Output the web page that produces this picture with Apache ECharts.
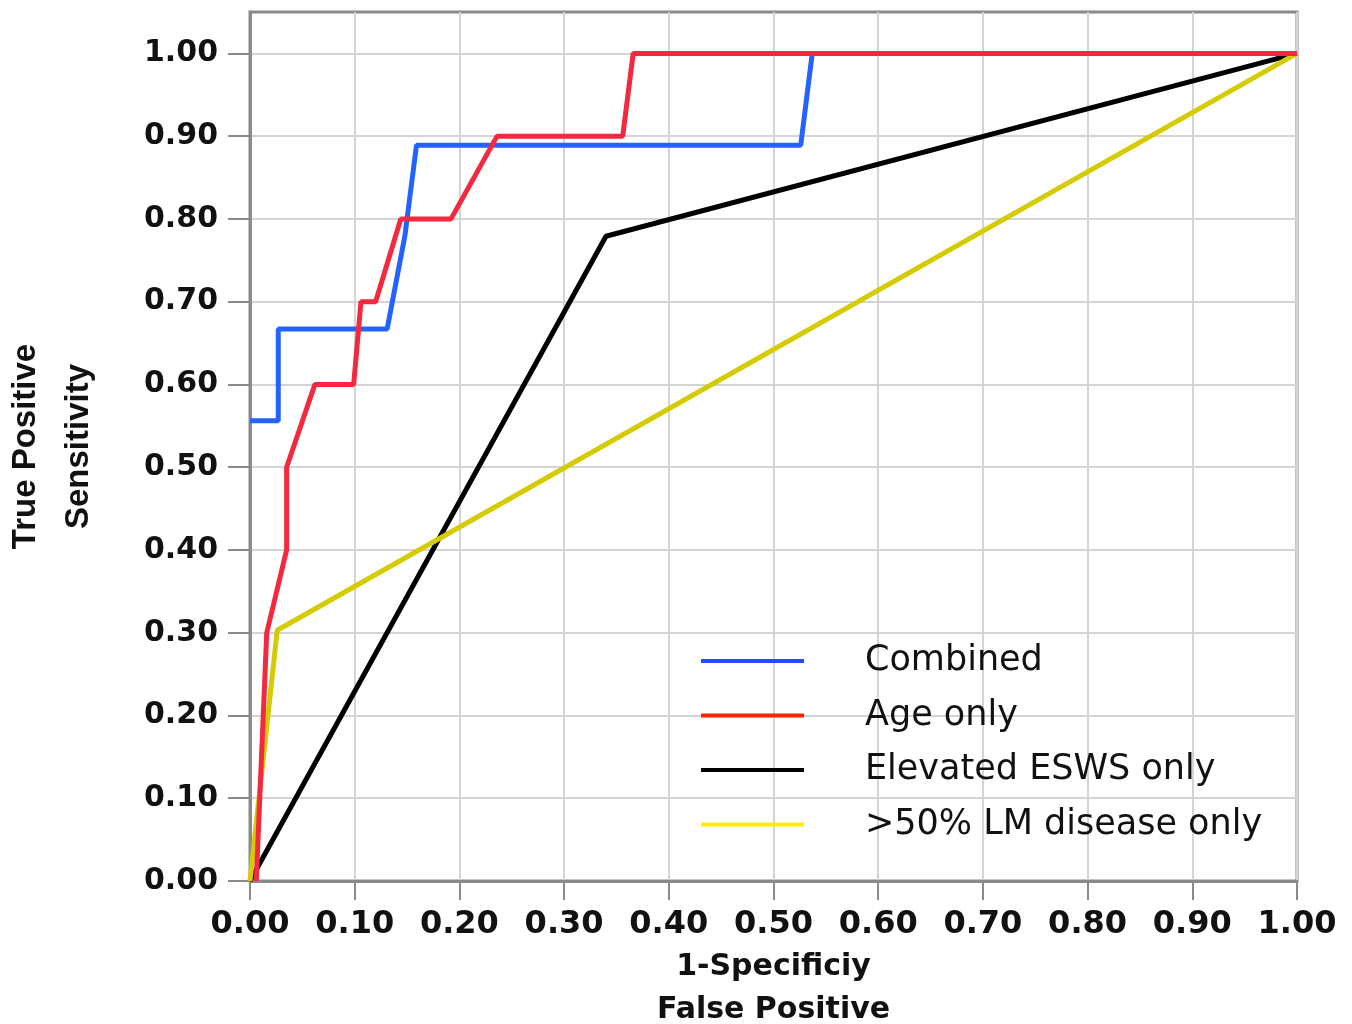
<!DOCTYPE html>
<html>
<head>
<meta charset="utf-8">
<script src="https://cdn.jsdelivr.net/npm/echarts@6/dist/echarts.min.js"></script>
<style>
html,body{margin:0;padding:0;background:#fff;}
#chart{width:1352px;height:1024px;}
</style>
</head>
<body>
<div id="chart"></div>
<script>
// Data (x = 1-Specificity, y = Sensitivity)
const seriesNames = ['Combined', 'Age only', 'Elevated ESWS only', '>50% LM disease only'];
const combined = [[0,0.556],[0.027,0.556],[0.027,0.667],[0.131,0.667],[0.148,0.78],[0.159,0.889],[0.526,0.889],[0.537,1],[1,1]];
const ageOnly = [[0.006,0],[0.016,0.30],[0.035,0.40],[0.035,0.50],[0.062,0.60],[0.099,0.60],[0.106,0.70],[0.12,0.70],[0.144,0.80],[0.192,0.80],[0.236,0.90],[0.356,0.90],[0.366,1],[1,1]];
const eswsOnly = [[0,0],[0.34,0.779],[1,1]];
const lmOnly = [[0,0],[0.026,0.303],[1,1]];
const tickValues = [0,0.1,0.2,0.3,0.4,0.5,0.6,0.7,0.8,0.9,1.0];
const xTitle = '1-Specificiy\nFalse Positive';
const yTitle = 'True Positive\nSensitivity';

const lineColors = ['#2463ff', '#f2293f', '#000000', '#d4cb00'];
const legendColors = ['#1f4dff', '#ff2200', '#000000', '#ffee00'];

const chart = echarts.init(document.getElementById('chart'), null, {renderer:'canvas'});
const axisCommon = {
  type: 'value',
  min: 0,
  interval: 0.1,
  axisLine: {show: true, lineStyle: {color: '#8a8a8a', width: 3}},
  axisTick: {show: true, inside: false, lineStyle: {color: '#8a8a8a', width: 2}, customValues: tickValues},
  splitLine: {show: true, lineStyle: {color: '#d4d4d4', width: 2}},
  axisLabel: {customValues: tickValues, formatter: v => v.toFixed(2), color: '#111',
    fontFamily: 'DejaVu Sans', fontWeight: 'bold'}
};
chart.setOption({
  animation: false,
  backgroundColor: '#fff',
  grid: {left: 250, right: 55, top: 12, bottom: 143, show: true, borderColor: '#8a8a8a', borderWidth: 3,
    containLabel: false, outerBoundsMode: 'none'},
  xAxis: Object.assign({}, axisCommon, {
    max: 1,
    axisTick: Object.assign({}, axisCommon.axisTick, {length: 19}),
    axisLabel: Object.assign({}, axisCommon.axisLabel, {fontSize: 32, margin: 28}),
    name: xTitle, nameLocation: 'middle', nameGap: 65,
    nameTextStyle: {fontFamily: 'DejaVu Sans', fontWeight: 'bold', fontSize: 30, lineHeight: 43, color: '#111'}
  }),
  yAxis: Object.assign({}, axisCommon, {
    max: 1.05,
    axisTick: Object.assign({}, axisCommon.axisTick, {length: 22}),
    axisLabel: Object.assign({}, axisCommon.axisLabel, {fontSize: 30, margin: 32}),
    name: yTitle, nameLocation: 'middle', nameGap: 145, nameRotate: 90,
    nameTextStyle: {fontFamily: 'Liberation Sans', fontWeight: 'bold', fontSize: 33, lineHeight: 53, color: '#111'}
  }),
  legend: {
    orient: 'vertical', left: 701, top: 641, padding: 0,
    itemWidth: 103, itemHeight: 20, itemGap: 14.5,
    textStyle: {fontFamily: 'DejaVu Sans', fontSize: 35, lineHeight: 40, color: '#111', padding: [0,0,0,56]},
    data: seriesNames.map((n, i) => ({name: n, itemStyle: {color: legendColors[i]}, lineStyle: {color: legendColors[i], width: 4}})),
    icon: 'path://M0,0 L100,0 L100,4 L0,4 Z'
  },
  series: [
    {name: seriesNames[0], type: 'line', data: combined, z: 4},
    {name: seriesNames[1], type: 'line', data: ageOnly, z: 5},
    {name: seriesNames[2], type: 'line', data: eswsOnly, z: 2},
    {name: seriesNames[3], type: 'line', data: lmOnly, z: 3}
  ].map((s, i) => Object.assign(s, {
    showSymbol: false, symbol: 'none', silent: true,
    lineStyle: {color: lineColors[i], width: 5},
    itemStyle: {color: lineColors[i]}
  }))
});
</script>
</body>
</html>
